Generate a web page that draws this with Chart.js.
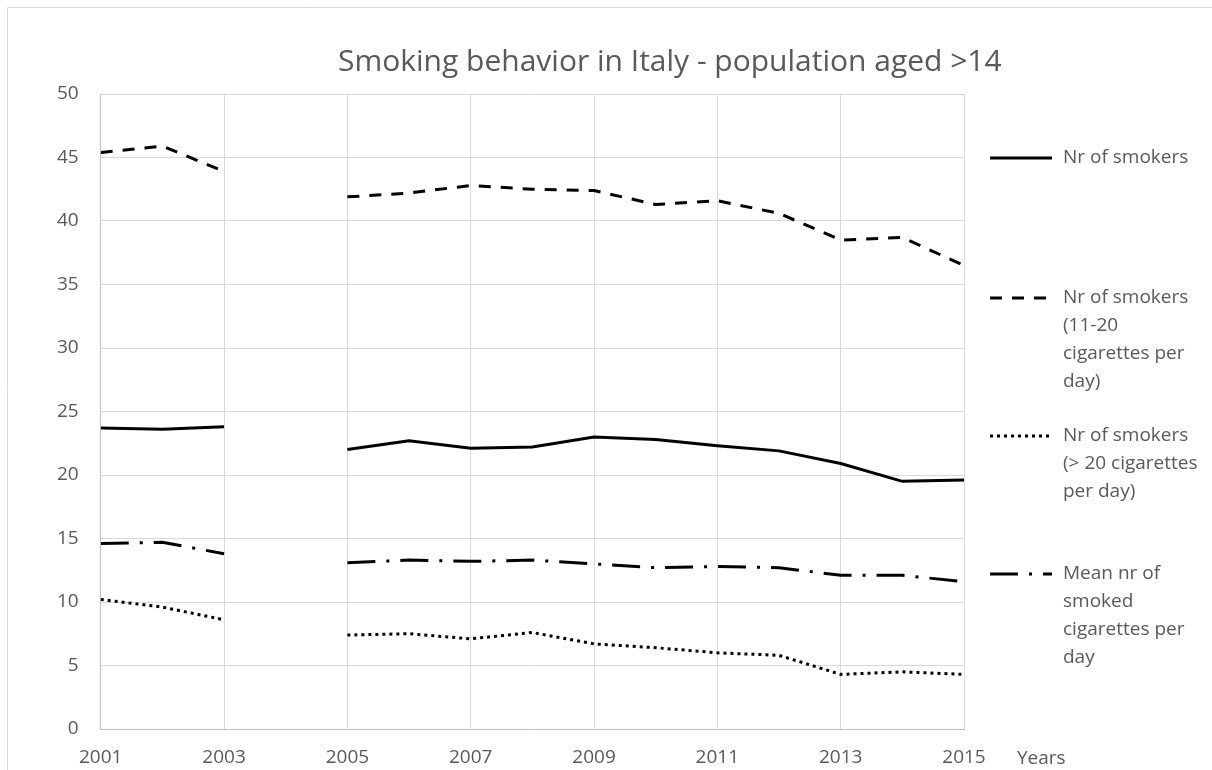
<!DOCTYPE html>
<html>
<head>
<meta charset="utf-8">
<script src="https://cdn.jsdelivr.net/npm/chart.js@4/dist/chart.umd.min.js"></script>
<style>
  html, body { margin: 0; padding: 0; background: #fff; }
  #wrap { width: 1212px; height: 770px; position: relative; }
</style>
</head>
<body>
<div id="wrap"><canvas id="smoking-chart"></canvas></div>
<script>
// Datos (2004 no tiene valor)
const years = [2001, 2002, 2003, 2004, 2005, 2006, 2007, 2008, 2009, 2010, 2011, 2012, 2013, 2014, 2015];
const smokers = [23.7, 23.6, 23.8, null, 22.0, 22.7, 22.1, 22.2, 23.0, 22.8, 22.3, 21.9, 20.9, 19.5, 19.6];
const smokers11to20 = [45.4, 45.9, 43.9, null, 41.9, 42.2, 42.8, 42.5, 42.4, 41.3, 41.6, 40.6, 38.5, 38.7, 36.5];
const smokersOver20 = [10.2, 9.6, 8.6, null, 7.4, 7.5, 7.1, 7.6, 6.7, 6.4, 6.0, 5.8, 4.3, 4.5, 4.3];
const meanCigarettes = [14.6, 14.7, 13.8, null, 13.1, 13.3, 13.2, 13.3, 13.0, 12.7, 12.8, 12.7, 12.1, 12.1, 11.6];

const seriesLabels = [
  ['Nr of smokers'],
  ['Nr of smokers', '(11-20', 'cigarettes per', 'day)'],
  ['Nr of smokers', '(> 20 cigarettes', 'per day)'],
  ['Mean nr of', 'smoked', 'cigarettes per', 'day']
];
const xTicks = [2001, 2003, 2005, 2007, 2009, 2011, 2013, 2015];
const yTicks = [0, 5, 10, 15, 20, 25, 30, 35, 40, 45, 50];
const chartTitle = 'Smoking behavior in Italy - population aged >14';
const xAxisName = 'Years';

const FONT = '"Open Sans", sans-serif';
const TEXT_COLOR = '#595959';

function toPoints(values) {
  return years.map((year, i) => ({ x: year, y: values[i] }));
}

function makeDataset(label, values, dash) {
  return {
    label: label.join(' '),
    legendLines: label,
    data: toPoints(values),
    borderColor: '#000',
    backgroundColor: '#000',
    borderWidth: 3,
    borderDash: dash,
    borderCapStyle: 'butt',
    pointRadius: 0,
    pointHoverRadius: 0,
    tension: 0,
    spanGaps: false,
  };
}

// Titulo, leyenda a la derecha, marco y nombre del eje x
const decorations = {
  id: 'decorations',
  afterDraw(chart) {
    const ctx = chart.ctx;
    ctx.save();

    // marco exterior
    ctx.strokeStyle = '#d9d9d9';
    ctx.lineWidth = 1;
    ctx.beginPath();
    ctx.moveTo(7.5, 800);
    ctx.lineTo(7.5, 7.5);
    ctx.lineTo(1212, 7.5);
    ctx.stroke();

    // titulo
    ctx.fillStyle = TEXT_COLOR;
    ctx.font = '30px ' + FONT;
    ctx.textAlign = 'left';
    ctx.textBaseline = 'alphabetic';
    ctx.fillText(chartTitle, 338, 71);

    // nombre del eje
    ctx.font = '19px ' + FONT;
    ctx.fillText(xAxisName, 1017, 764);

    // leyenda
    const itemTops = [158, 298, 436, 574];
    ctx.textBaseline = 'middle';
    chart.data.datasets.forEach((ds, i) => {
      const y = itemTops[i];
      ctx.strokeStyle = ds.borderColor;
      ctx.lineWidth = ds.borderWidth;
      ctx.setLineDash(ds.borderDash);
      ctx.beginPath();
      ctx.moveTo(990, y);
      ctx.lineTo(1052, y);
      ctx.stroke();
      ctx.setLineDash([]);
      ds.legendLines.forEach((line, j) => {
        ctx.fillText(line, 1063, y + j * 27.7);
      });
    });

    ctx.restore();
  }
};

const ctx = document.getElementById('smoking-chart').getContext('2d');
window.myChart = new Chart(ctx, {
  type: 'line',
  data: {
    datasets: [
      makeDataset(seriesLabels[0], smokers, []),
      makeDataset(seriesLabels[1], smokers11to20, [12, 10]),
      makeDataset(seriesLabels[2], smokersOver20, [3, 4]),
      makeDataset(seriesLabels[3], meanCigarettes, [28, 11, 3, 11]),
    ],
  },
  options: {
    responsive: true,
    maintainAspectRatio: false,
    animation: false,
    events: [],
    layout: {
      padding: { left: 35, right: 248, top: 94, bottom: 0 },
    },
    plugins: {
      legend: { display: false },
      title: { display: false },
      tooltip: { enabled: false },
    },
    scales: {
      x: {
        type: 'linear',
        min: xTicks[0],
        max: xTicks[xTicks.length - 1],
        afterBuildTicks: (axis) => { axis.ticks = xTicks.map(v => ({ value: v })); },
        afterFit: (axis) => { axis.height = 41; },
        ticks: {
          callback: (v) => String(v),
          color: TEXT_COLOR,
          font: { family: FONT, size: 19 },
          padding: 17,
          maxRotation: 0,
        },
        grid: { color: '#d9d9d9', drawTicks: false },
        border: { color: '#bfbfbf', width: 1 },
      },
      y: {
        min: yTicks[0],
        max: yTicks[yTicks.length - 1],
        afterBuildTicks: (axis) => { axis.ticks = yTicks.map(v => ({ value: v })); },
        ticks: {
          color: TEXT_COLOR,
          font: { family: FONT, size: 19 },
          padding: 22,
        },
        grid: { color: '#d9d9d9', drawTicks: false },
        border: { color: '#bfbfbf', width: 1 },
      },
    },
  },
  plugins: [decorations],
});
</script>
</body>
</html>
